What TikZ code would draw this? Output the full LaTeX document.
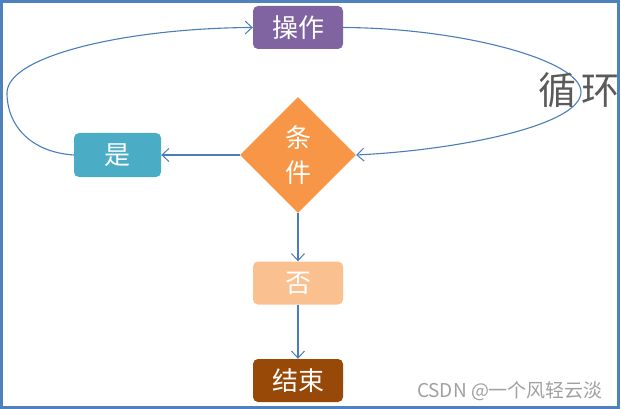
\documentclass[tikz,border=0pt]{standalone}
\usepackage{fontspec}
\setmainfont{Noto Sans CJK SC}
\usetikzlibrary{shapes.geometric,arrows.meta}
\definecolor{framec}{HTML}{4F81BD}
\definecolor{linec}{HTML}{4A7EBB}
\definecolor{purplec}{HTML}{8064A2}
\definecolor{tealc}{HTML}{4BACC6}
\definecolor{orangec}{HTML}{F79646}
\definecolor{peachc}{HTML}{FAC090}
\definecolor{brownc}{HTML}{984807}
\definecolor{labelc}{HTML}{5A5A5A}
\definecolor{markc}{HTML}{A0A0A0}
\begin{document}
\begin{tikzpicture}[x=1pt,y=-1pt,
  box/.style={rounded corners=5pt, minimum width=90pt, minimum height=43pt,
    text=white, font=\fontsize{26}{28}\selectfont, inner sep=0pt},
  conn/.style={draw=linec, line width=1.1pt,
    -{Straight Barb[length=7pt,width=13pt,line width=1pt]}},
  vconn/.style={conn, line width=2pt}]
\useasboundingbox (0,0) rectangle (621,409);
\draw[framec, line width=3pt] (1.5,1.5) rectangle (618.5,407.5);

\node[box, fill=purplec] (op) at (298,27.5) {操作};
\node[box, fill=tealc, minimum width=87pt, minimum height=44pt] (yes) at (117.5,155) {是};
\node[diamond, fill=orangec, minimum width=116pt, minimum height=116pt, inner sep=0pt,
  text=white, align=center, font=\fontsize{26}{35}\selectfont] (cond) at (298,155) {条\\件};
\node[box, fill=peachc] (no) at (298,283) {否};
\node[box, fill=brownc] (end) at (298,380.5) {结束};

\coordinate (lw) at (7,93);
\coordinate (re) at (581,92);

\draw[conn] (cond.west) -- (yes.east);
\draw[vconn] (cond.south) -- (no.north);
\draw[vconn] (no.south) -- (end.north);
\draw[conn] (yes.west) .. controls (30,152) and (7,125) .. (lw)
  .. controls (7,55) and (130,28) .. (op.west);
\draw[conn] (op.east) .. controls (460,28) and (581,60) .. (re)
  .. controls (581,125) and (460,150) .. (cond.east);

\node[text=labelc, font=\fontsize{38}{42}\selectfont, inner sep=0pt] (loop) at (579,90) {循\hspace{5pt}环};
\node[text=markc, font=\fontsize{19}{21}\selectfont, inner sep=0pt] (mark) at (510,391) {CSDN @一个风轻云淡};
\end{tikzpicture}
\end{document}
